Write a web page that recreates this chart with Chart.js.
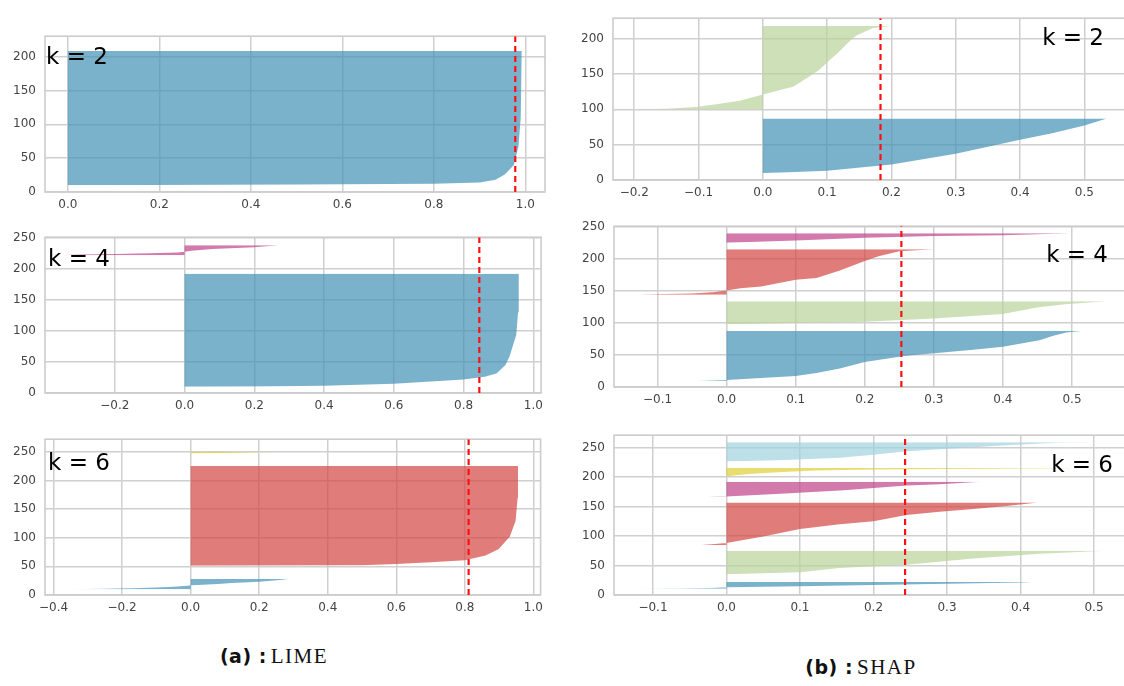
<!DOCTYPE html>
<html>
<head>
<meta charset="utf-8">
<script src="https://cdn.jsdelivr.net/npm/chart.js@4.4.1/dist/chart.umd.min.js"></script>
<style>
  html, body { margin: 0; padding: 0; background: #fff; }
  body { width: 1124px; height: 686px; position: relative; overflow: hidden; }
  canvas { position: absolute; }
  .cap { position: absolute; transform: translateX(-50%); white-space: nowrap; color: #111; }
  .cap b { font-family: 'DejaVu Sans', sans-serif; font-size: 19px; letter-spacing: 0.5px; }
  .cap span { font-family: 'Liberation Serif', 'DejaVu Serif', serif; font-size: 21px; letter-spacing: 1.5px; }
</style>
</head>
<body>
<canvas id="lime2"></canvas>
<canvas id="lime4"></canvas>
<canvas id="lime6"></canvas>
<canvas id="shap2"></canvas>
<canvas id="shap4"></canvas>
<canvas id="shap6"></canvas>
<div class="cap" style="left:274px; top:644px;"><b>(a) :</b> <span>LIME</span></div>
<div class="cap" style="left:861px; top:655px;"><b>(b) :</b> <span>SHAP</span></div>
<script>
// silhouette profiles per cluster: [sample position, silhouette value]
const limeK2Blue = [[10,0.02],[11,0.5],[12,0.8],[14,0.9],[18,0.935],[26,0.955],[40,0.975],[67,0.985],[110,0.99],[208,0.992]];

const limeK4Blue = [[10,0.0],[10.5,0.2],[11.5,0.4],[15,0.6],[21.6,0.8],[26,0.86],[31.5,0.894],[45,0.92],[59.6,0.932],[94,0.951],[130,0.956],[192,0.958]];
const limeK4Pink = [[222,-0.36],[223,-0.3],[224,-0.2],[225,-0.1],[226.5,-0.02],[227.5,0.0],[229,0.02],[232,0.08],[235,0.2],[238,0.268]];

const limeK6Blue = [[10,-0.355],[11,-0.25],[12,-0.17],[13,-0.1],[14.5,-0.05],[16,-0.01],[17,0.0],[17.5,0.02],[19,0.08],[21,0.12],[23,0.2],[26,0.26],[28,0.286]];
const limeK6Red = [[51,0.0],[52,0.5],[54,0.6],[57,0.7],[60.7,0.8],[69,0.86],[80,0.898],[101.6,0.931],[129,0.948],[170,0.954],[225,0.955]];
const limeK6Yellow = [[247,0.0],[248,0.1],[249,0.2],[250,0.286]];

const shapK2Blue = [[10,0.0],[11,0.04],[13,0.1],[22,0.2],[37,0.3],[57,0.4],[66,0.45],[77,0.5],[87,0.535]];
const shapK2Green = [[100,-0.194],[101,-0.15],[103.3,-0.104],[107.8,-0.067],[112,-0.036],[118.7,-0.01],[121,0.0],[122,0.005],[128,0.03],[132,0.047],[145,0.07],[156,0.088],[170,0.104],[180,0.117],[198,0.137],[204,0.145],[215,0.171],[218,0.2]];

const shapK4Blue = [[9.5,-0.041],[10.5,-0.005],[11,0.0],[14,0.05],[17,0.1],[22,0.13],[29,0.164],[39,0.2],[48.6,0.26],[53.5,0.309],[58,0.357],[63,0.4],[73,0.453],[80,0.473],[85,0.492],[87.5,0.514]];
const shapK4Green = [[98,0.0],[100,0.1],[102,0.2],[107,0.3],[114,0.4],[124,0.449],[129,0.49],[134,0.55]];
const shapK4Red = [[144,-0.128],[145,-0.09],[146,-0.05],[148,-0.02],[150.7,0.0],[154,0.02],[157,0.05],[167.5,0.1],[170,0.13],[182,0.164],[196.7,0.2],[204,0.22],[212,0.25],[215,0.3]];
const shapK4Pink = [[225,0.0],[228.6,0.1],[233,0.2],[235.7,0.3],[237,0.4],[240,0.497]];

const shapK6Blue = [[10.4,-0.12],[11,-0.06],[12,-0.02],[13,0.0],[15,0.1],[17,0.2],[19,0.3],[21,0.4],[22,0.416]];
const shapK6Green = [[35,0.0],[38.4,0.1],[46,0.154],[51.5,0.245],[62,0.336],[70,0.426],[75,0.517]];
const shapK6Red = [[84.6,-0.036],[86,-0.02],[88,0.0],[99,0.05],[112,0.1],[120,0.154],[125,0.2],[135.6,0.245],[141,0.29],[146,0.336],[151,0.381],[156.8,0.424]];
const shapK6Pink = [[166,-0.031],[167,0.0],[172,0.08],[177.7,0.16],[185.7,0.245],[188,0.29],[192,0.347]];
const shapK6Yellow = [[201.5,0.0],[205,0.03],[208,0.07],[211,0.12],[213,0.2],[214,0.35],[215.5,0.5]];
const shapK6Cyan = [[226.5,0.0],[229,0.08],[232.6,0.154],[238,0.2],[243.7,0.245],[249,0.313],[254,0.381],[258,0.45],[259,0.501]];

// average silhouette score (red dashed line)
const kValues = [2, 4, 6];
const limeAvg = [0.978, 0.845, 0.811];
const shapAvg = [0.183, 0.253, 0.243];

// tick labels
const limeXTicks = [
  [0, 0.2, 0.4, 0.6, 0.8, 1.0],
  [-0.2, 0, 0.2, 0.4, 0.6, 0.8, 1.0],
  [-0.4, -0.2, 0, 0.2, 0.4, 0.6, 0.8, 1.0]
];
const shapXTicks = [
  [-0.2, -0.1, 0, 0.1, 0.2, 0.3, 0.4, 0.5],
  [-0.1, 0, 0.1, 0.2, 0.3, 0.4, 0.5],
  [-0.1, 0, 0.1, 0.2, 0.3, 0.4, 0.5]
];
const yTicksK2 = [0, 50, 100, 150, 200];
const yTicksK4 = [0, 50, 100, 150, 200, 250];

const colors = {
  blue: 'rgba(65,145,182,0.7)',
  green: 'rgba(184,211,154,0.7)',
  red: 'rgba(211,68,65,0.7)',
  pink: 'rgba(191,65,137,0.7)',
  yellow: 'rgba(222,207,50,0.7)',
  cyan: 'rgba(160,210,222,0.7)'
};

const AXIS_W = 40, AXIS_H = 28, PAD_TOP = 4, PAD_RIGHT = 4;

const panels = [
  { id: 'lime2', frame: [45, 24, 545, 192], xMin: -0.05, xMax: 1.043, yMax: 230,
    xTicks: limeXTicks[0], yTicks: yTicksK2, avg: limeAvg[0], k: kValues[0],
    clusters: [[limeK2Blue, 'blue']], label: { align: 'left', dx: 1, dy: 28 } },
  { id: 'lime4', frame: [45, 225, 545, 393], xMin: -0.40, xMax: 1.022, yMax: 251,
    xTicks: limeXTicks[1], yTicks: yTicksK4, avg: limeAvg[1], k: kValues[1],
    clusters: [[limeK4Blue, 'blue'], [limeK4Pink, 'pink']], label: { align: 'left', dx: 3, dy: 29 } },
  { id: 'lime6', frame: [45, 427, 545, 595], xMin: -0.425, xMax: 1.021, yMax: 272,
    xTicks: limeXTicks[2], yTicks: yTicksK4, avg: limeAvg[2], k: kValues[2],
    clusters: [[limeK6Blue, 'blue'], [limeK6Red, 'red'], [limeK6Yellow, 'yellow']], label: { align: 'left', dx: 3, dy: 31 } },
  { id: 'shap2', frame: [613, 6, 1130, 180], xMin: -0.233, xMax: 0.571, yMax: 229,
    xTicks: shapXTicks[0], yTicks: yTicksK2, avg: shapAvg[0], k: kValues[0],
    clusters: [[shapK2Blue, 'blue'], [shapK2Green, 'green']], label: { align: 'right', dx: 26, dy: 27 } },
  { id: 'shap4', frame: [614, 214, 1130, 387], xMin: -0.163, xMax: 0.584, yMax: 251,
    xTicks: shapXTicks[1], yTicks: yTicksK4, avg: shapAvg[1], k: kValues[1],
    clusters: [[shapK4Blue, 'blue'], [shapK4Green, 'green'], [shapK4Red, 'red'], [shapK4Pink, 'pink']], label: { align: 'right', dx: 22, dy: 36 } },
  { id: 'shap6', frame: [614, 423, 1130, 595], xMin: -0.153, xMax: 0.549, yMax: 271,
    xTicks: shapXTicks[2], yTicks: yTicksK4, avg: shapAvg[2], k: kValues[2],
    clusters: [[shapK6Blue, 'blue'], [shapK6Green, 'green'], [shapK6Red, 'red'], [shapK6Pink, 'pink'], [shapK6Yellow, 'yellow'], [shapK6Cyan, 'cyan']], label: { align: 'right', dx: 17, dy: 37 } }
];

function fmtX(v) {
  return (v < 0 ? '\u2212' : '') + Math.abs(v).toFixed(1);
}

const frameBox = {
  id: 'frameBox',
  beforeDatasetsDraw(chart) {
    const a = chart.chartArea, ctx = chart.ctx;
    ctx.save();
    ctx.strokeStyle = '#cccccc';
    ctx.lineWidth = 1.6;
    ctx.strokeRect(a.left, a.top, a.right - a.left, a.bottom - a.top);
    ctx.restore();
  }
};

const kLabel = {
  id: 'kLabel',
  afterDatasetsDraw(chart, args, opts) {
    const a = chart.chartArea, ctx = chart.ctx;
    ctx.save();
    ctx.font = '23px "DejaVu Sans"';
    ctx.fillStyle = '#000';
    ctx.textBaseline = 'alphabetic';
    ctx.textAlign = opts.align;
    const x = opts.align === 'left' ? a.left + opts.dx : a.right - opts.dx;
    ctx.fillText(opts.text, x, a.top + opts.dy);
    ctx.restore();
  }
};

const tickFont = { family: 'DejaVu Sans', size: 12 };
const gridOpts = { color: '#cfcfcf', lineWidth: 1.5, drawTicks: false };

panels.forEach(p => {
  const [fl, ft, fr, fb] = p.frame;
  const cv = document.getElementById(p.id);
  const left = fl - AXIS_W;
  const top = ft - PAD_TOP;
  const w = fr - left + PAD_RIGHT;
  const h = fb + AXIS_H - top;
  cv.width = w; cv.height = h;
  cv.style.left = left + 'px';
  cv.style.top = top + 'px';
  cv.style.width = w + 'px';
  cv.style.height = h + 'px';

  const datasets = [{
    data: [{ x: p.avg, y: 0 }, { x: p.avg, y: p.yMax }],
    borderColor: '#ff1010',
    borderWidth: 2.2,
    borderDash: [6, 4],
    fill: false,
    pointRadius: 0,
    order: 0
  }];
  p.clusters.forEach(([pts, col]) => {
    datasets.push({
      data: pts.map(([y, v]) => ({ x: v, y: y })),
      backgroundColor: colors[col],
      borderColor: 'rgba(0,0,0,0)',
      borderWidth: 0,
      fill: 'origin',
      pointRadius: 0,
      tension: 0,
      order: 1
    });
  });

  new Chart(cv, {
    type: 'line',
    data: { datasets },
    plugins: [frameBox, kLabel],
    options: {
      responsive: false,
      animation: false,
      devicePixelRatio: 1,
      indexAxis: 'y',
      layout: { padding: { top: PAD_TOP, right: PAD_RIGHT, left: 0, bottom: 0 } },
      plugins: {
        legend: { display: false },
        tooltip: { enabled: false },
        kLabel: { text: 'k = ' + p.k, align: p.label.align, dx: p.label.dx, dy: p.label.dy }
      },
      scales: {
        x: {
          type: 'linear', position: 'bottom', bounds: 'data',
          min: p.xMin, max: p.xMax,
          afterBuildTicks: s => { s.ticks = p.xTicks.map(v => ({ value: v })); },
          afterFit: s => { s.height = AXIS_H; },
          grid: gridOpts,
          border: { display: false },
          ticks: { padding: 6, color: '#444', font: tickFont, maxRotation: 0, autoSkip: false, callback: v => fmtX(v) }
        },
        y: {
          type: 'linear', position: 'left', bounds: 'data',
          min: 0, max: p.yMax,
          afterBuildTicks: s => { s.ticks = p.yTicks.map(v => ({ value: v })); },
          afterFit: s => { s.width = AXIS_W; },
          grid: gridOpts,
          border: { display: false },
          ticks: { padding: 9, color: '#444', font: tickFont, autoSkip: false, callback: v => String(v) }
        }
      }
    }
  });
});
</script>
</body>
</html>
